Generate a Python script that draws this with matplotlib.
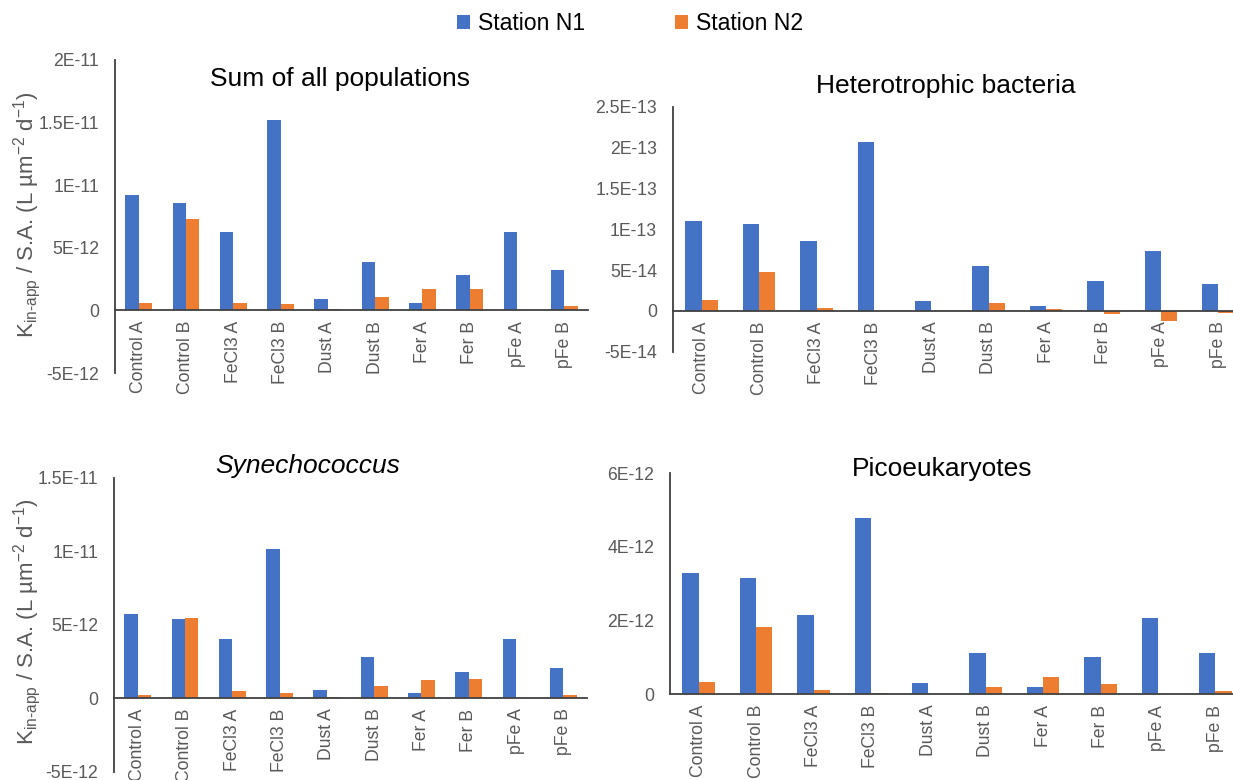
import matplotlib
matplotlib.use('Agg')
import matplotlib.pyplot as plt
import numpy as np
from matplotlib.patches import Patch

plt.rcParams['font.family'] = ['Liberation Sans', 'DejaVu Sans']
plt.rcParams['mathtext.fontset'] = 'custom'
plt.rcParams['mathtext.rm'] = 'Liberation Sans'
plt.rcParams['mathtext.it'] = 'Liberation Sans:italic'
plt.rcParams['mathtext.bf'] = 'Liberation Sans:bold'

categories = ['Control A', 'Control B', 'FeCl3 A', 'FeCl3 B', 'Dust A',
              'Dust B', 'Fer A', 'Fer B', 'pFe A', 'pFe B']
series_names = ['Station N1', 'Station N2']

sum_n1 = [9.19e-12, 8.61e-12, 6.28e-12, 15.23e-12, 0.90e-12, 3.89e-12, 0.58e-12, 2.83e-12, 6.28e-12, 3.26e-12]
sum_n2 = [0.60e-12, 7.34e-12, 0.60e-12, 0.50e-12, 0.15e-12, 1.11e-12, 1.67e-12, 1.67e-12, 0.0, 0.34e-12]
het_n1 = [1.10e-13, 1.067e-13, 0.851e-13, 2.064e-13, 0.122e-13, 0.55e-13, 0.057e-13, 0.37e-13, 0.733e-13, 0.334e-13]
het_n2 = [0.139e-13, 0.47e-13, 0.041e-13, 0.0, 0.0, 0.102e-13, 0.028e-13, -0.041e-13, -0.122e-13, -0.024e-13]
syn_n1 = [5.75e-12, 5.36e-12, 4.05e-12, 10.18e-12, 0.55e-12, 2.77e-12, 0.36e-12, 1.77e-12, 4.05e-12, 2.05e-12]
syn_n2 = [0.20e-12, 5.45e-12, 0.48e-12, 0.36e-12, 0.11e-12, 0.82e-12, 1.23e-12, 1.30e-12, 0.0, 0.20e-12]
pico_n1 = [3.28e-12, 3.17e-12, 2.14e-12, 4.78e-12, 0.31e-12, 1.12e-12, 0.20e-12, 1.01e-12, 2.07e-12, 1.12e-12]
pico_n2 = [0.34e-12, 1.82e-12, 0.12e-12, 0.04e-12, 0.0, 0.21e-12, 0.47e-12, 0.28e-12, 0.0, 0.10e-12]

sum_ticks = [-5e-12, 0, 5e-12, 1e-11, 1.5e-11, 2e-11]
sum_ticklabels = ['-5E-12', '0', '5E-12', '1E-11', '1.5E-11', '2E-11']
het_ticks = [-5e-14, 0, 5e-14, 1e-13, 1.5e-13, 2e-13, 2.5e-13]
het_ticklabels = ['-5E-14', '0', '5E-14', '1E-13', '1.5E-13', '2E-13', '2.5E-13']
syn_ticks = [-5e-12, 0, 5e-12, 1e-11, 1.5e-11]
syn_ticklabels = ['-5E-12', '0', '5E-12', '1E-11', '1.5E-11']
pico_ticks = [0, 2e-12, 4e-12, 6e-12]
pico_ticklabels = ['0', '2E-12', '4E-12', '6E-12']

titles = ['Sum of all populations', 'Heterotrophic bacteria', 'Synechococcus', 'Picoeukaryotes']
ylabel_text = r'K$_{\text{in-app}}$ / S.A. (L µm$^{-2}$ d$^{-1}$)'

BLUE = '#4472C4'
ORANGE = '#ED7D31'
GRAY = '#595959'

W, H = 1233, 780
fig = plt.figure(figsize=(W / 100, H / 100), dpi=100)


def px_axes(left, top, right, bottom):
    return fig.add_axes([left / W, 1 - bottom / H, (right - left) / W, (bottom - top) / H])


panels = [
    (px_axes(115, 60, 588, 373), sum_n1, sum_n2, sum_ticks, sum_ticklabels),
    (px_axes(673, 106.7, 1247, 351.7), het_n1, het_n2, het_ticks, het_ticklabels),
    (px_axes(114, 477.7, 587, 771.7), syn_n1, syn_n2, syn_ticks, syn_ticklabels),
    (px_axes(670, 473.3, 1244, 694.3), pico_n1, pico_n2, pico_ticks, pico_ticklabels),
]

x = np.arange(len(categories))
bw = 0.284
for ax, n1, n2, ticks, tlabels in panels:
    ax.spines['top'].set_visible(False)
    ax.spines['right'].set_visible(False)
    ax.spines['bottom'].set_position(('data', 0))
    ax.spines['bottom'].set_color('#404040')
    ax.spines['bottom'].set_linewidth(1.3)
    ax.spines['bottom'].set_zorder(3)
    ax.spines['left'].set_color('#404040')
    ax.spines['left'].set_linewidth(1.3)
    ax.bar(x - bw / 2, n1, bw, color=BLUE, zorder=1)
    ax.bar(x + bw / 2, n2, bw, color=ORANGE, zorder=1)
    ax.set_xlim(-0.5, len(categories) - 0.5)
    ax.set_ylim(ticks[0], ticks[-1])
    ax.set_yticks(ticks)
    ax.set_yticklabels(tlabels)
    ax.set_xticks(x)
    ax.set_xticklabels(categories)
    ax.tick_params(axis='both', length=0, labelsize=12.7, labelcolor=GRAY)
    ax.tick_params(axis='y', pad=11.5)
    ax.tick_params(axis='x', pad=7.5, labelrotation=90)
    ax.patch.set_alpha(0)

# titles
fig.text(340 / W, 1 - 79 / H, titles[0], fontsize=19, ha='center', va='center', color='black')
fig.text(946 / W, 1 - 86 / H, titles[1], fontsize=19, ha='center', va='center', color='black')
fig.text(308 / W, 1 - 465.5 / H, titles[2], fontsize=19, ha='center', va='center', color='black', style='italic')
fig.text(942 / W, 1 - 469 / H, titles[3], fontsize=19, ha='center', va='center', color='black')

# y labels
fig.text(27 / W, 1 - 215 / H, ylabel_text, fontsize=16, rotation=90, ha='center', va='center', color=GRAY)
fig.text(27 / W, 1 - 622 / H, ylabel_text, fontsize=16, rotation=90, ha='center', va='center', color=GRAY)

# legend
handles = [Patch(facecolor=BLUE), Patch(facecolor=ORANGE)]
fig.legend(handles, series_names, loc='center', bbox_to_anchor=(630 / W, 1 - 24 / H), ncol=2,
           frameon=False, fontsize=16.6, handlelength=0.55, handleheight=0.55,
           handletextpad=0.35, columnspacing=3.9)

fig.savefig('out.png', dpi=100)
